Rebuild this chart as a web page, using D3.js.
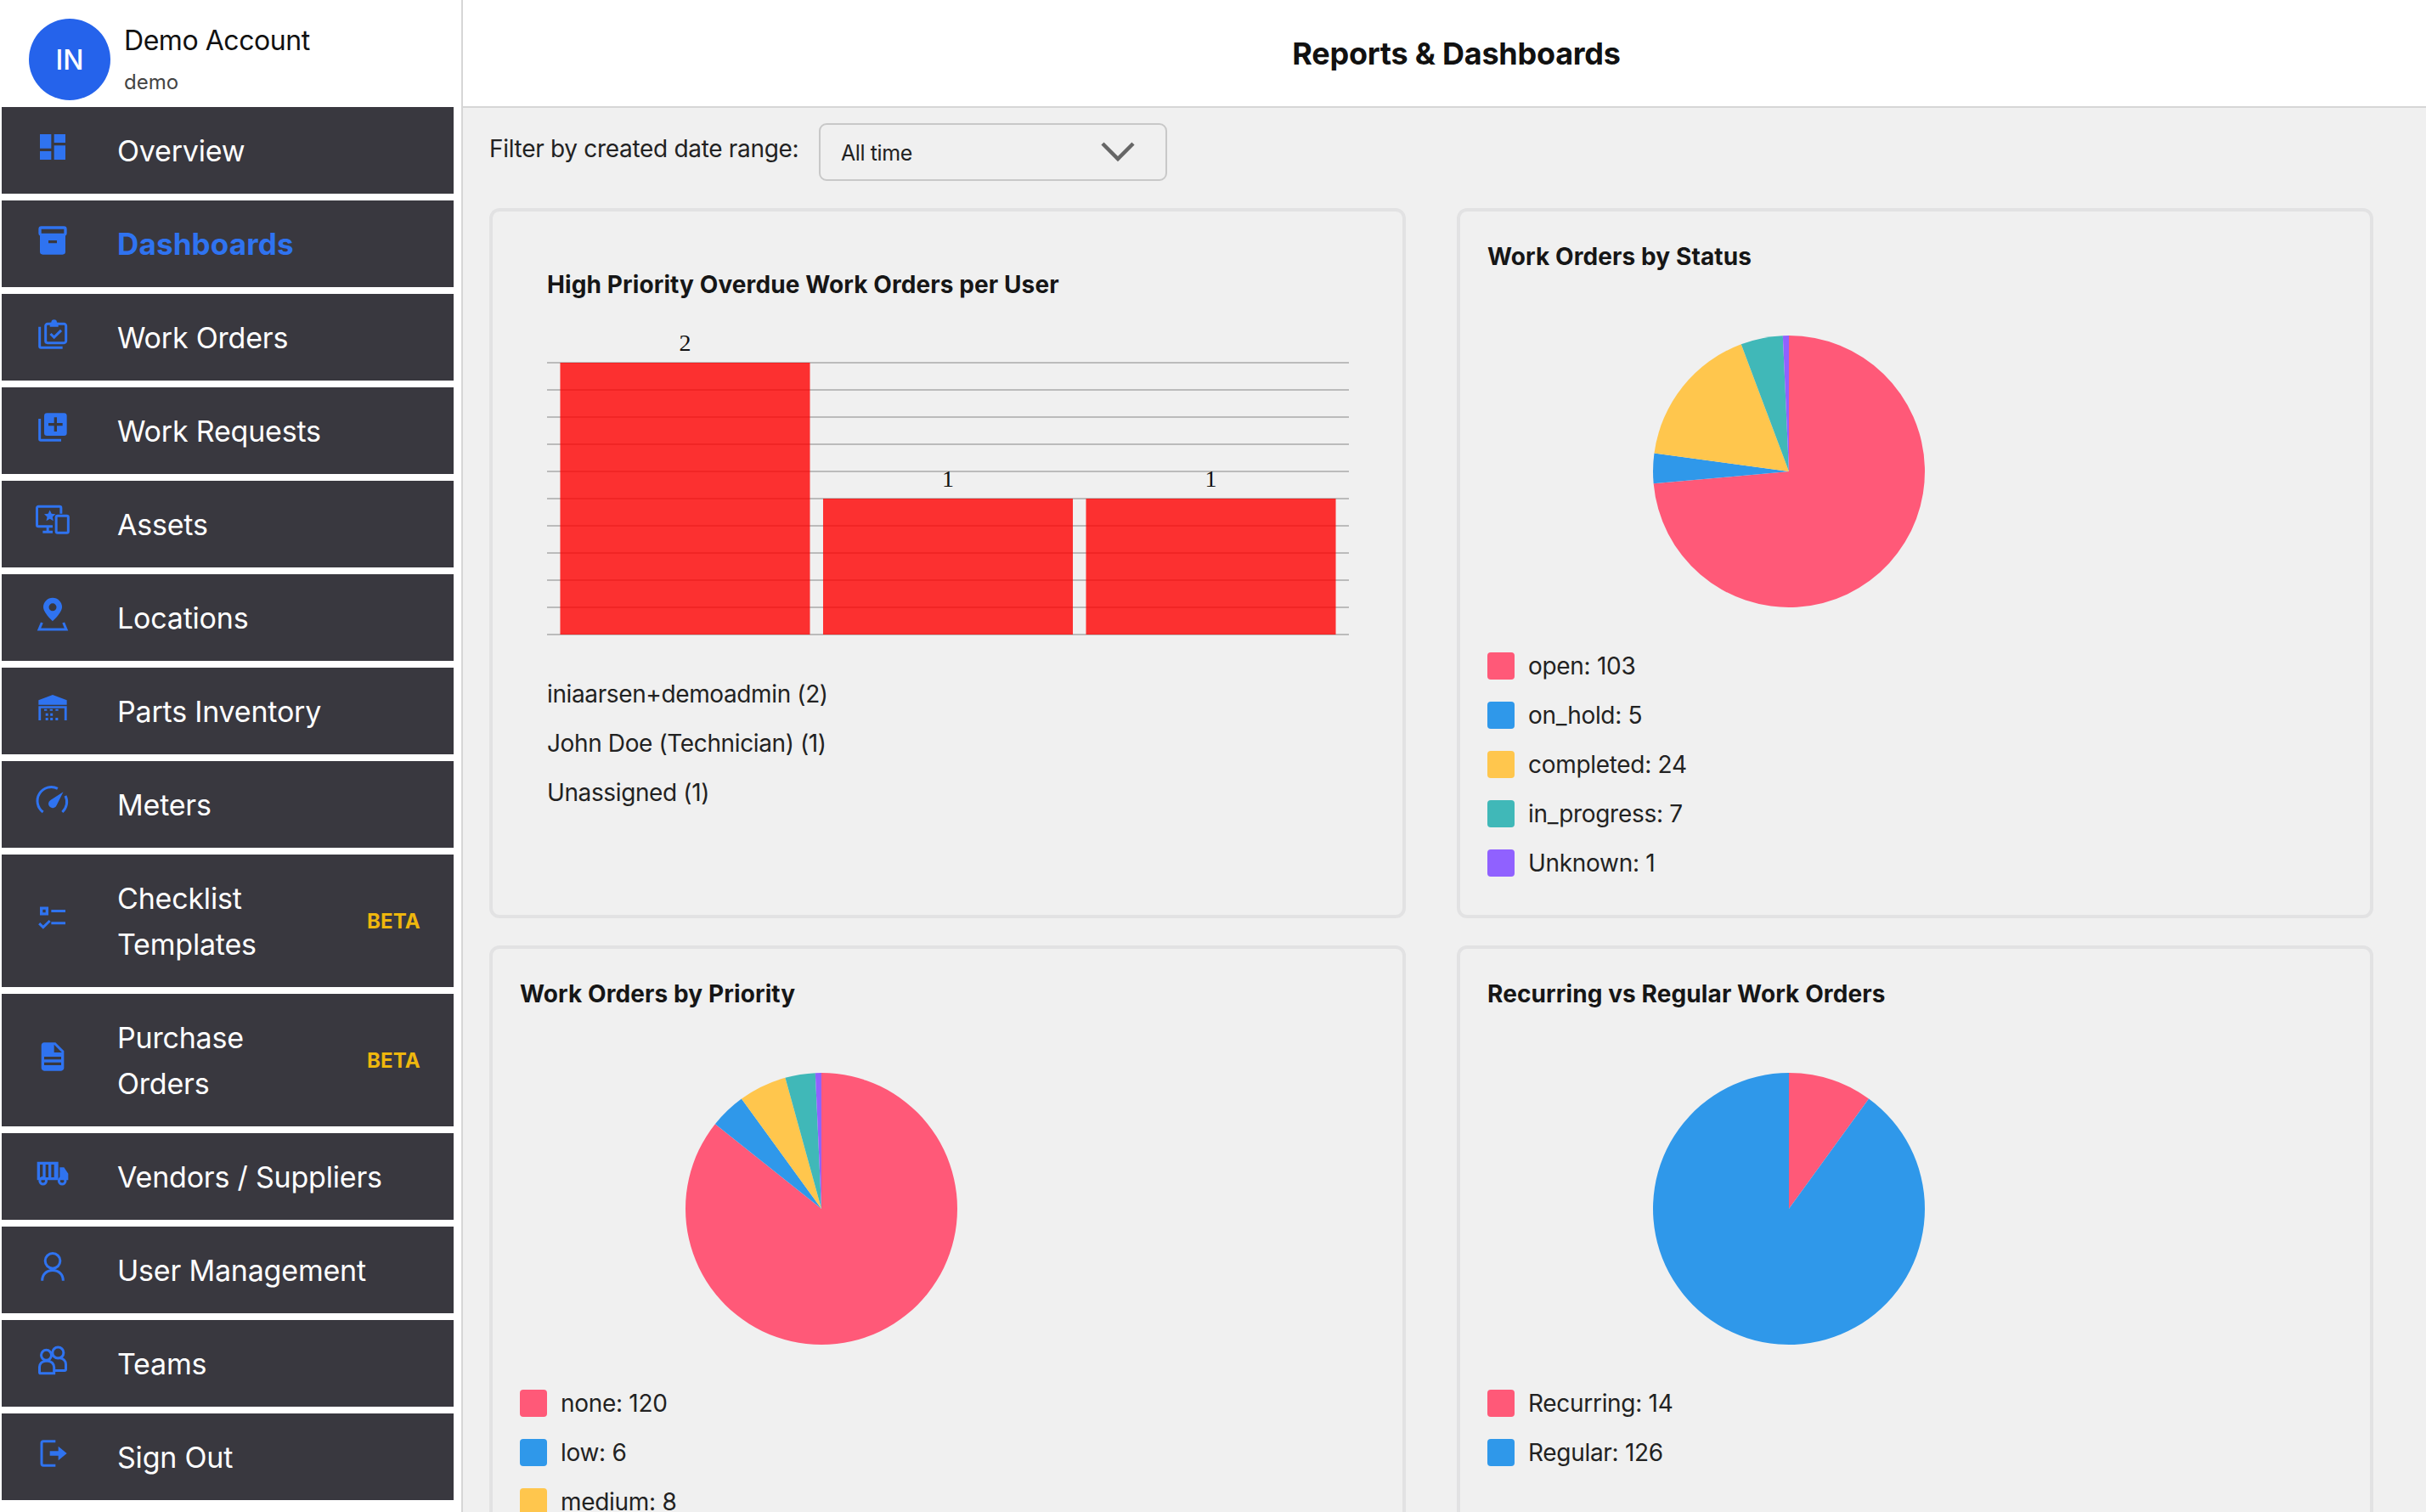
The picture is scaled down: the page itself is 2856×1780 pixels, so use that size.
<!DOCTYPE html>
<html>
<head>
<meta charset="utf-8">
<title>Reports & Dashboards</title>
<script src="https://cdn.jsdelivr.net/npm/d3@7"></script>
<style>
  html, body { margin: 0; padding: 0; background: #f0f0f0; overflow: hidden; }
  text { font-family: Inter, "Noto Sans", sans-serif; }
</style>
</head>
<body>
<div id="page"></div>
<script>
// DATA
const overdueUsers = ["iniaarsen+demoadmin", "John Doe (Technician)", "Unassigned"];
const overdueCounts = [2, 1, 1];

const statusLabels = ["open", "on_hold", "completed", "in_progress", "Unknown"];
const statusCounts = [103, 5, 24, 7, 1];

const priorityLabels = ["none", "low", "medium", "high", "Unknown"];
const priorityCounts = [120, 6, 8, 5, 1];

const recurringLabels = ["Recurring", "Regular"];
const recurringCounts = [14, 126];

const navLabels = [
  ["Overview"], ["Dashboards"], ["Work Orders"], ["Work Requests"], ["Assets"], ["Locations"],
  ["Parts Inventory"], ["Meters"], ["Checklist", "Templates"], ["Purchase", "Orders"],
  ["Vendors / Suppliers"], ["User Management"], ["Teams"], ["Sign Out"]
];

// nav icons, in a 24 unit box. f = filled part, s = outlined part
const navIcons = [
  { f: "M3 13h8V3H3v10zm0 8h8v-6H3v6zm10 0h8V11h-8v10zm0-18v6h8V3h-8z" },
  { f: "M4 2h16a2 2 0 0 1 2 2v3a2 2 0 0 1-1 1.7V20a2 2 0 0 1-2 2H5a2 2 0 0 1-2-2V8.7A2 2 0 0 1 2 7V4a2 2 0 0 1 2-2z M4 4v3h16V4z M9 12v2h6v-2z" },
  { f: "M11 4a2 2 0 0 1 4 0h1v3h-6V4z", s: "M2.8 7v14a.8.8 0 0 0 .8.8H19 M8.5 5H20a1.4 1.4 0 0 1 1.4 1.4V17a1.4 1.4 0 0 1-1.4 1.4H8.4A1.4 1.4 0 0 1 7 17V6.4A1.4 1.4 0 0 1 8.4 5z M10.5 12l2.5 2.5 5-5" },
  { f: "M8 2h12a2 2 0 0 1 2 2v12a2 2 0 0 1-2 2H8a2 2 0 0 1-2-2V4a2 2 0 0 1 2-2z M13 5v4H9v2h4v4h2v-4h4V9h-4V5z", s: "M2.8 6v14.5a.7.7 0 0 0 .7.7H18" },
  { f: "M10 4.5l1.2 2.6 2.8.3-2.1 1.9.6 2.8-2.5-1.4-2.5 1.4.6-2.8L6 7.4l2.8-.3z M5 19h7v1.8H5z M7.6 16h1.8v3H7.6z", s: "M12 16H1.9a1 1 0 0 1-1-1V3a1 1 0 0 1 1-1h15a1 1 0 0 1 1 1v4 M15.5 8.5h6.5a1 1 0 0 1 1 1v10a1 1 0 0 1-1 1h-6.5a1 1 0 0 1-1-1v-10a1 1 0 0 1 1-1z" },
  { f: "M12 .5a6.6 6.6 0 0 0-6.6 6.6C5.4 11 12 17 12 17s6.6-6 6.6-9.9A6.6 6.6 0 0 0 12 .5z M12 4.4a2.7 2.7 0 1 1 0 5.4 2.7 2.7 0 0 1 0-5.4z", s: "M4.4 18l-2 4.8h19.2l-2-4.8" },
  { f: "M12 3l10 3.7V10H2V6.700z M2 11h20v10h-1.700V12.500H3.700V21H2z M6 13h2v1.200H6z M10 13h2v1.200h-2z M14 13h2v1.200h-2z M7 16h1.800v1.800H7z M10.300 16h1.800v1.800h-1.800z M7 19.200h1.800V21H7z M10.300 19.200h1.800V21h-1.800z M14 19.200h1.800V21H14z" },
  { f: "M19.500 5.500L14.800 15a3 3 0 1 1-4.400-3.600z", s: "M5.200 19.800A9.800 9.800 0 0 1 15.500 3.200 M21 8.300A9.800 9.800 0 0 1 18.800 19.800" },
  { f: "M3 4.500h6v6H3z M5 6.500v2h2v-2z M11 6.600h10v1.800H11z M11 15.100h10v1.800H11z", s: "M2.500 16.300l2.800 2.700 4.700-4.600" },
  { f: "M14 2H6c-1.100 0-1.990.9-1.990 2L4 20c0 1.100.89 2 1.990 2H18c1.100 0 2-.9 2-2V8l-6-6zm4 16H6v-2h12v2zm0-4H6v-2h12v2zm-5-5V3.500L18.500 9H13z" },
  { f: "M1 4h15v13H1z M3 6v9h2V6z M7 6v9h2V6z M11 6v9h2V6z M17 8h3l3 4.500V17h-6z", s: "M7.500 17.500a2.300 2.300 0 1 1-4.600 0 2.300 2.300 0 0 1 4.600 0z M21 17.500a2.300 2.300 0 1 1-4.600 0 2.300 2.300 0 0 1 4.600 0z" },
  { s: "M12 2.700a5.300 5.300 0 1 1 0 10.600 5.300 5.300 0 0 1 0-10.600z M4.600 22c0-4.400 3-7.300 7.400-7.300s7.400 2.900 7.400 7.300" },
  { s: "M7.500 5a3.600 3.600 0 1 1 0 7.200 3.600 3.600 0 0 1 0-7.200z M15.800 3a3.900 3.900 0 1 1 0 7.800 3.900 3.900 0 0 1 0-7.800z M3.500 21.500a.8.8 0 0 1-.8-.8V17a4.300 4.300 0 0 1 4.300-4.300h1.500a4.500 4.500 0 0 1 4.500 4.500v4.300z M13 19.500h7.500a.8.8 0 0 0 .8-.8V15a4.300 4.300 0 0 0-4.300-4.300h-3" },
  { f: "M10 10.300h6V7l6 5-6 5v-3.300h-6z", s: "M14 3.500H5.500a1.300 1.300 0 0 0-1.300 1.300v14.400a1.300 1.300 0 0 0 1.300 1.300H14" }
];

const pieColors = ["#ff5978", "#2f98ea", "#ffc64d", "#40b8b8", "#9061ff"];

// LAYOUT
const width = 2856, height = 1780;
const accent = "#2f73f0";

const svg = d3.select("#page").append("svg")
  .attr("width", width)
  .attr("height", height)
  .style("display", "block");

svg.append("rect").attr("width", width).attr("height", height).attr("fill", "#f0f0f0");

// top bar + sidebar
svg.append("rect").attr("width", width).attr("height", 125).attr("fill", "#fff");
svg.append("rect").attr("y", 125).attr("width", width).attr("height", 2).attr("fill", "#d6d6d6");
svg.append("rect").attr("width", 543).attr("height", height).attr("fill", "#fff");
svg.append("rect").attr("x", 543).attr("width", 2).attr("height", height).attr("fill", "#d6d6d6");

svg.append("circle").attr("cx", 82).attr("cy", 70).attr("r", 48).attr("fill", "#2563eb");
svg.append("text").attr("x", 82).attr("y", 82).attr("text-anchor", "middle")
  .attr("fill", "#fff").attr("font-size", 32).attr("font-weight", 500).text("IN");
svg.append("text").attr("x", 146).attr("y", 59).attr("fill", "#111")
  .attr("font-size", 32).attr("letter-spacing", -0.45).text("Demo Account");
svg.append("text").attr("x", 146).attr("y", 105).attr("fill", "#444")
  .attr("font-size", 24).text("demo");

svg.append("text").attr("x", 1714.5).attr("y", 76).attr("text-anchor", "middle")
  .attr("fill", "#111").attr("font-size", 36).attr("font-weight", 700)
  .attr("letter-spacing", -0.24).text("Reports & Dashboards");

// sidebar items
let navY = 126;
navLabels.forEach((lines, i) => {
  const h = lines.length > 1 ? 156 : 102;
  const cy = navY + h / 2;
  const item = svg.append("g");
  item.append("rect").attr("x", 2).attr("y", navY).attr("width", 532).attr("height", h).attr("fill", "#39383f");

  const icon = item.append("g").attr("transform", `translate(42,${cy - 24}) scale(1.667)`);
  if (navIcons[i].f) icon.append("path").attr("d", navIcons[i].f).attr("fill", accent).attr("fill-rule", "evenodd");
  if (navIcons[i].s) icon.append("path").attr("d", navIcons[i].s).attr("fill", "none").attr("stroke", accent).attr("stroke-width", 1.8);

  lines.forEach((line, j) => {
    item.append("text")
      .attr("x", 138)
      .attr("y", cy + 13 + (j - (lines.length - 1) / 2) * 54)
      .attr("font-size", i === 1 ? 35 : 34)
      .attr("letter-spacing", i === 1 ? 0.15 : -0.2)
      .attr("font-weight", i === 1 ? 700 : 400)
      .attr("fill", i === 1 ? accent : "#fff")
      .text(line);
  });
  if (lines.length > 1) {
    item.append("text").attr("x", 432).attr("y", cy + 9).attr("font-size", 24).attr("font-weight", 700)
      .attr("letter-spacing", 0.1).attr("fill", "#eeb70d").text("BETA");
  }
  navY += h + 8;
});

// filter
svg.append("text").attr("x", 576).attr("y", 185).attr("font-size", 28).attr("letter-spacing", -0.31)
  .attr("fill", "#222").text("Filter by created date range:");
svg.append("rect").attr("x", 965).attr("y", 146).attr("width", 408).attr("height", 66).attr("rx", 8)
  .attr("fill", "#f0f0f0").attr("stroke", "#c8c8c8").attr("stroke-width", 2);
svg.append("text").attr("x", 990).attr("y", 189).attr("font-size", 25).attr("letter-spacing", -0.4)
  .attr("fill", "#222").text("All time");
svg.append("path").attr("d", "M1298 169L1316 187L1334 169").attr("fill", "none").attr("stroke", "#666").attr("stroke-width", 4.5);

// cards
function card(x, y, w, h, title, titleX, titleY) {
  svg.append("rect").attr("x", x + 2).attr("y", y + 2).attr("width", w - 4).attr("height", h - 4).attr("rx", 10)
    .attr("fill", "#f0f0f0").attr("stroke", "#e2e2e3").attr("stroke-width", 4);
  svg.append("text").attr("x", titleX).attr("y", titleY).attr("font-size", 28).attr("font-weight", 700)
    .attr("letter-spacing", 0.1).attr("fill", "#161616").text(title);
}

card(576, 245, 1079, 836, "High Priority Overdue Work Orders per User", 644, 345);
card(1715, 245, 1079, 836, "Work Orders by Status", 1751, 312);
card(576, 1113, 1079, 800, "Work Orders by Priority", 612, 1180);
card(1715, 1113, 1079, 800, "Recurring vs Regular Work Orders", 1751, 1180);

// BAR CHART
const xScale = d3.scaleBand()
  .domain(overdueUsers)
  .range([644, 1588])
  .paddingInner(0.05)
  .paddingOuter(0.05);

const yScale = d3.scaleLinear()
  .domain([0, d3.max(overdueCounts)])
  .range([747, 427]);

const grid = svg.append("g")
  .attr("transform", "translate(644,0)")
  .call(d3.axisLeft(yScale).ticks(10).tickSize(-944).tickFormat("").offset(0));
grid.select(".domain").remove();
grid.selectAll(".tick line").attr("stroke", "#bbb").attr("stroke-width", 2);

svg.selectAll(".bar")
  .data(overdueUsers)
  .join("rect")
  .attr("class", "bar")
  .attr("x", d => xScale(d))
  .attr("y", (d, i) => yScale(overdueCounts[i]))
  .attr("width", xScale.bandwidth())
  .attr("height", (d, i) => yScale(0) - yScale(overdueCounts[i]))
  .attr("fill", "rgba(255,0,0,0.8)");

svg.selectAll(".bar-value")
  .data(overdueUsers)
  .join("text")
  .attr("class", "bar-value")
  .attr("x", d => xScale(d) + xScale.bandwidth() / 2)
  .attr("y", (d, i) => yScale(overdueCounts[i]) - 14)
  .attr("text-anchor", "middle")
  .attr("font-size", 28)
  .style("font-family", "'Liberation Serif', serif")
  .attr("fill", "#111")
  .text((d, i) => overdueCounts[i]);

svg.selectAll(".bar-label")
  .data(overdueUsers)
  .join("text")
  .attr("class", "bar-label")
  .attr("x", 644)
  .attr("y", (d, i) => 826.5 + i * 58)
  .attr("font-size", 28)
  .attr("letter-spacing", -0.38)
  .attr("fill", "#222")
  .text((d, i) => `${d} (${overdueCounts[i]})`);

// PIES
const pie = d3.pie().sort(null);
const arc = d3.arc().innerRadius(0).outerRadius(160);

function drawPie(labels, counts, cx, cy, legendX, legendY) {
  const color = d3.scaleOrdinal().domain(labels).range(pieColors);

  svg.append("g")
    .attr("transform", `translate(${cx},${cy})`)
    .selectAll("path")
    .data(pie(counts))
    .join("path")
    .attr("d", arc)
    .attr("fill", (d, i) => color(labels[i]));

  // rows past the bottom of the window are not drawn
  const shown = labels.filter((d, i) => legendY + i * 58 < height);
  const rows = svg.append("g").selectAll("g")
    .data(shown)
    .join("g")
    .attr("transform", (d, i) => `translate(${legendX},${legendY + i * 58})`);

  rows.append("rect")
    .attr("width", 32).attr("height", 32).attr("rx", 4)
    .attr("fill", d => color(d));

  rows.append("text")
    .attr("x", 48).attr("y", 26)
    .attr("font-size", 28)
    .attr("letter-spacing", -0.3)
    .attr("fill", "#222")
    .text((d, i) => `${d}: ${counts[i]}`);
}

drawPie(statusLabels, statusCounts, 2106, 555, 1751, 768);
drawPie(priorityLabels, priorityCounts, 967, 1423, 612, 1636);
drawPie(recurringLabels, recurringCounts, 2106, 1423, 1751, 1636);
</script>
</body>
</html>
